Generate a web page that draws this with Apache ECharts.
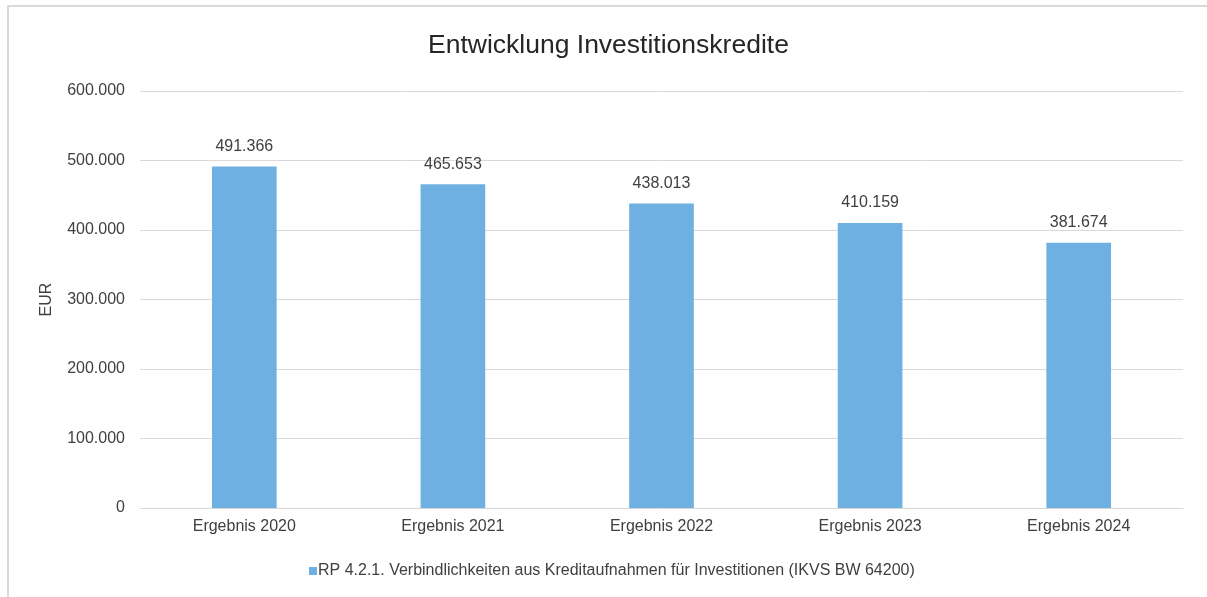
<!DOCTYPE html>
<html><head><meta charset="utf-8">
<script src="https://cdn.jsdelivr.net/npm/echarts@6/dist/echarts.min.js"></script>
<style>html,body{margin:0;padding:0;background:#fff}#c{width:1207px;height:597px}</style>
</head><body><div id="c"></div>
<script>
const categories = ['Ergebnis 2020','Ergebnis 2021','Ergebnis 2022','Ergebnis 2023','Ergebnis 2024'];
const values = [491366, 465653, 438013, 410159, 381674];
const seriesName = 'RP 4.2.1. Verbindlichkeiten aus Kreditaufnahmen für Investitionen (IKVS BW 64200)';
const titleText = 'Entwicklung Investitionskredite';
const yAxisName = 'EUR';

function fmt(v){ return String(v).replace(/\B(?=(\d{3})+(?!\d))/g, '.'); }

const chart = echarts.init(document.getElementById('c'));
const font = 'Liberation Sans, Arial, sans-serif';
chart.setOption({
  animation:false,
  textStyle:{fontFamily:font},
  graphic:[{type:'rect',shape:{x:8,y:6,width:1220,height:620},style:{fill:'none',stroke:'#d9d9d9',lineWidth:2},silent:true}],
  title:{text:titleText,left:423,top:27,textStyle:{fontSize:26.5,fontWeight:'normal',color:'#262626',fontFamily:font}},
  legend:{bottom:13,left:304,itemWidth:8,itemHeight:8,itemGap:10,icon:'rect',
    textStyle:{fontSize:16,color:'#404040',fontFamily:font,padding:[0,0,0,-4]}},
  grid:{left:140,right:24,top:91,bottom:89},
  xAxis:{type:'category',data:categories,
    axisLine:{lineStyle:{color:'#d9d9d9',width:1}},axisTick:{show:false},
    axisLabel:{fontSize:16,color:'#404040',margin:11,fontFamily:font}},
  yAxis:{type:'value',min:0,max:600000,interval:100000,
    name:yAxisName,nameLocation:'middle',nameGap:85,nameRotate:90,
    nameTextStyle:{fontSize:16,color:'#404040',fontFamily:font},
    axisLine:{show:false},axisTick:{show:false},
    splitLine:{lineStyle:{color:'#d9d9d9',width:1}},
    axisLabel:{fontSize:16,color:'#404040',margin:15,formatter:fmt,fontFamily:font}},
  series:[{name:seriesName,type:'bar',data:values,barWidth:'31%',
    itemStyle:{color:'#6eb0e2'},
    label:{show:true,position:'top',distance:12,fontSize:16,color:'#404040',formatter:p=>fmt(p.value),fontFamily:font}}]
});
</script></body></html>
